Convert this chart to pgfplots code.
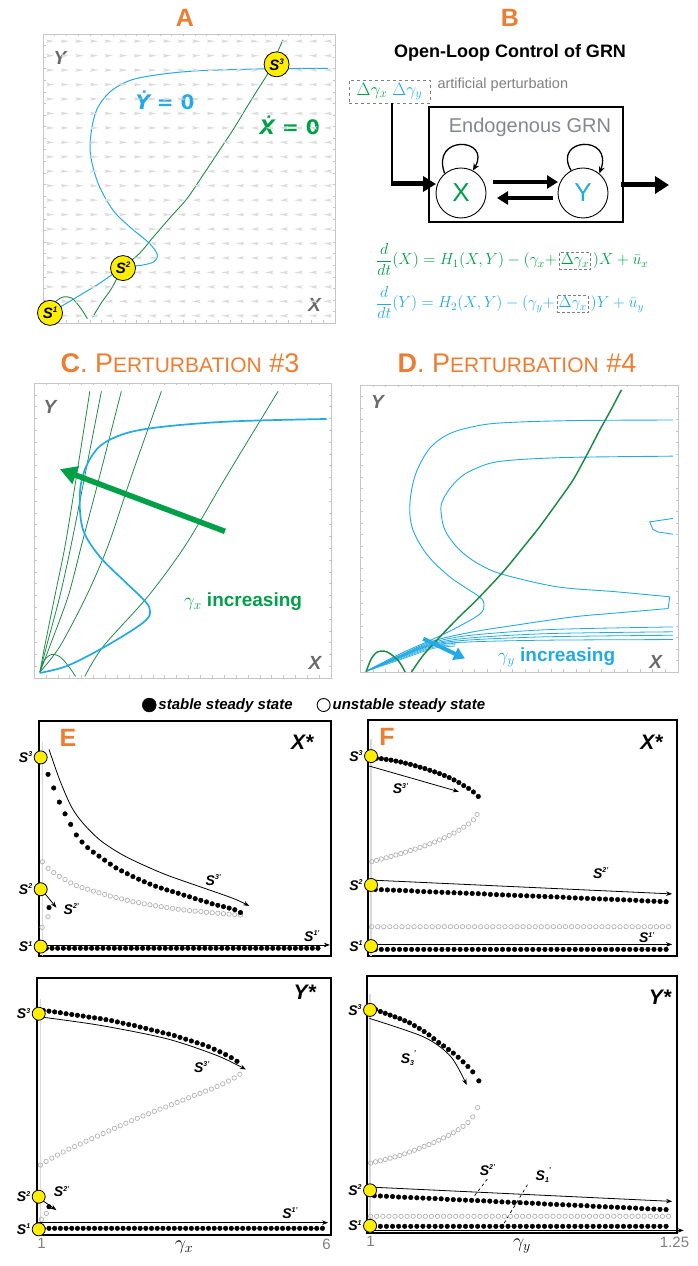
\RequirePackage{fix-cm}
\documentclass[border=0pt]{standalone}
\usepackage{pgfplots}
\pgfplotsset{compat=1.18}
\usepackage{fontspec}
\setmainfont{Liberation Sans}
\newfontfamily\dvs{DejaVu Sans}
\usetikzlibrary{arrows.meta}
\definecolor{orng}{RGB}{237,125,49}
\definecolor{grn}{RGB}{0,160,72}
\definecolor{dgrn}{RGB}{30,140,70}
\definecolor{blu}{RGB}{35,170,230}
\definecolor{yel}{RGB}{255,238,0}
\definecolor{lbl}{RGB}{105,105,105}
\definecolor{endo}{RGB}{130,135,145}
\newcommand{\FSZ}[1]{\fontsize{#1}{#1}\selectfont}
\newcommand{\Sv}[3]{{\FSZ{#1}\bfseries\itshape S\raisebox{0.4em}{\FSZ{#2}#3}}}
\newcommand{\Ssub}[3]{{\FSZ{#1}\bfseries\itshape S\raisebox{-0.2em}{\FSZ{#2}#3}\raisebox{0.55em}{\FSZ{#2}'}}}
\pgfdeclareplotmark{rar}{%
  \pgfpathmoveto{\pgfqpoint{-4.2pt}{1.7pt}}\pgfpathlineto{\pgfqpoint{4.2pt}{0pt}}\pgfpathlineto{\pgfqpoint{-4.2pt}{-1.7pt}}\pgfpathlineto{\pgfqpoint{-2.6pt}{0pt}}\pgfpathclose\pgfusepathqfill}
\pgfdeclareplotmark{lar}{%
  \pgfpathmoveto{\pgfqpoint{4.2pt}{1.7pt}}\pgfpathlineto{\pgfqpoint{-4.2pt}{0pt}}\pgfpathlineto{\pgfqpoint{4.2pt}{-1.7pt}}\pgfpathlineto{\pgfqpoint{2.6pt}{0pt}}\pgfpathclose\pgfusepathqfill}
\pgfplotsset{
  phase/.style={scale only axis, clip=false, xmin=0,xmax=1,ymin=0,ymax=1,
    axis line style={gray!45, line width=0.6pt},
    xtick={0,0.04,...,1.01}, ytick={0,0.04,...,1.01},
    xticklabels={}, yticklabels={},
    tick style={gray!45, line width=0.4pt}, major tick length=2.5pt, tick align=inside},
  bif/.style={scale only axis, clip=false, ymin=0, ymax=1,
    axis line style={black, line width=1.1pt}, xtick=\empty, ytick=\empty},
  st/.style={only marks, mark=*, mark size=2.3pt, black, forget plot},
  us/.style={only marks, mark=o, mark size=2.2pt, gray!60, mark options={line width=0.7pt}, forget plot},
  yc/.style={only marks, mark=*, mark size=#1, mark options={fill=yel, draw=black, line width=0.8pt}, forget plot},
  yc/.default=6.5pt,
  ann/.style={black, line width=0.8pt, -{Stealth[length=6pt,width=4.5pt]}, forget plot},
}
\begin{document}
\begin{tikzpicture}[x=1pt,y=1pt]
\path[use as bounding box] (0,0) rectangle (697,1266);
\coordinate (cA) at (43,943);
\coordinate (cC) at (34,588);
\coordinate (cD) at (360,594);
\coordinate (cE1) at (39,310);
\coordinate (cE2) at (37,31);
\coordinate (cF1) at (368,310);
\coordinate (cF2) at (367,33);
% ---------------- Panel A ----------------
\node[text=orng, font=\FSZ{25}\bfseries] at (185,1266-18) {A};
\begin{axis}[phase, at={(cA)}, anchor=south west, width=292pt, height=289pt]
\addplot[only marks, mark=rar, gray!28]
 table[row sep=\\, x expr=\thisrow{i}*0.05+0.025, y expr=\thisrow{j}*0.05+0.025]{i j\\
0 0\\1 0\\2 0\\
0 1\\1 1\\2 1\\3 1\\
0 2\\1 2\\2 2\\3 2\\4 2\\
0 3\\1 3\\2 3\\3 3\\4 3\\
0 4\\1 4\\2 4\\3 4\\4 4\\5 4\\
0 5\\1 5\\2 5\\3 5\\4 5\\5 5\\6 5\\
0 6\\1 6\\2 6\\3 6\\4 6\\5 6\\6 6\\7 6\\
0 7\\1 7\\2 7\\3 7\\4 7\\5 7\\6 7\\7 7\\8 7\\
0 8\\1 8\\2 8\\3 8\\4 8\\5 8\\6 8\\7 8\\8 8\\9 8\\
0 9\\1 9\\2 9\\3 9\\4 9\\5 9\\6 9\\7 9\\8 9\\9 9\\
0 10\\1 10\\2 10\\3 10\\4 10\\5 10\\6 10\\7 10\\8 10\\9 10\\10 10\\
0 11\\1 11\\2 11\\3 11\\4 11\\5 11\\6 11\\7 11\\8 11\\9 11\\10 11\\11 11\\
0 12\\1 12\\2 12\\3 12\\4 12\\5 12\\6 12\\7 12\\8 12\\9 12\\10 12\\11 12\\
0 13\\1 13\\2 13\\3 13\\4 13\\5 13\\6 13\\7 13\\8 13\\9 13\\10 13\\11 13\\12 13\\
0 14\\1 14\\2 14\\3 14\\4 14\\5 14\\6 14\\7 14\\8 14\\9 14\\10 14\\11 14\\12 14\\13 14\\
0 15\\1 15\\2 15\\3 15\\4 15\\5 15\\6 15\\7 15\\8 15\\9 15\\10 15\\11 15\\12 15\\13 15\\
0 16\\1 16\\2 16\\3 16\\4 16\\5 16\\6 16\\7 16\\8 16\\9 16\\10 16\\11 16\\12 16\\13 16\\14 16\\
0 17\\1 17\\2 17\\3 17\\4 17\\5 17\\6 17\\7 17\\8 17\\9 17\\10 17\\11 17\\12 17\\13 17\\14 17\\15 17\\
0 18\\1 18\\2 18\\3 18\\4 18\\5 18\\6 18\\7 18\\8 18\\9 18\\10 18\\11 18\\12 18\\13 18\\14 18\\15 18\\
0 19\\1 19\\2 19\\3 19\\4 19\\5 19\\6 19\\7 19\\8 19\\9 19\\10 19\\11 19\\12 19\\13 19\\14 19\\15 19\\
};
\addplot[only marks, mark=lar, gray!28]
 table[row sep=\\, x expr=\thisrow{i}*0.05+0.025, y expr=\thisrow{j}*0.05+0.025]{i j\\
3 0\\4 0\\5 0\\6 0\\7 0\\8 0\\9 0\\10 0\\11 0\\12 0\\13 0\\14 0\\15 0\\16 0\\17 0\\18 0\\19 0\\
4 1\\5 1\\6 1\\7 1\\8 1\\9 1\\10 1\\11 1\\12 1\\13 1\\14 1\\15 1\\16 1\\17 1\\18 1\\19 1\\
5 2\\6 2\\7 2\\8 2\\9 2\\10 2\\11 2\\12 2\\13 2\\14 2\\15 2\\16 2\\17 2\\18 2\\19 2\\
5 3\\6 3\\7 3\\8 3\\9 3\\10 3\\11 3\\12 3\\13 3\\14 3\\15 3\\16 3\\17 3\\18 3\\19 3\\
6 4\\7 4\\8 4\\9 4\\10 4\\11 4\\12 4\\13 4\\14 4\\15 4\\16 4\\17 4\\18 4\\19 4\\
7 5\\8 5\\9 5\\10 5\\11 5\\12 5\\13 5\\14 5\\15 5\\16 5\\17 5\\18 5\\19 5\\
8 6\\9 6\\10 6\\11 6\\12 6\\13 6\\14 6\\15 6\\16 6\\17 6\\18 6\\19 6\\
9 7\\10 7\\11 7\\12 7\\13 7\\14 7\\15 7\\16 7\\17 7\\18 7\\19 7\\
10 8\\11 8\\12 8\\13 8\\14 8\\15 8\\16 8\\17 8\\18 8\\19 8\\
10 9\\11 9\\12 9\\13 9\\14 9\\15 9\\16 9\\17 9\\18 9\\19 9\\
11 10\\12 10\\13 10\\14 10\\15 10\\16 10\\17 10\\18 10\\19 10\\
12 11\\13 11\\14 11\\15 11\\16 11\\17 11\\18 11\\19 11\\
12 12\\13 12\\14 12\\15 12\\16 12\\17 12\\18 12\\19 12\\
13 13\\14 13\\15 13\\16 13\\17 13\\18 13\\19 13\\
14 14\\15 14\\16 14\\17 14\\18 14\\19 14\\
14 15\\15 15\\16 15\\17 15\\18 15\\19 15\\
15 16\\16 16\\17 16\\18 16\\19 16\\
16 17\\17 17\\18 17\\19 17\\
16 18\\17 18\\18 18\\19 18\\
16 19\\17 19\\18 19\\19 19\\
};
\addplot[blu, line width=1pt, smooth, tension=0.55] coordinates {(0.024,0.035)(0.10,0.08)(0.19,0.135)(0.274,0.19)(0.34,0.2)(0.38,0.212)(0.392,0.235)(0.365,0.275)(0.30,0.33)(0.24,0.39)(0.19,0.48)(0.163,0.58)(0.165,0.66)(0.185,0.74)(0.23,0.80)(0.30,0.84)(0.40,0.86)(0.52,0.872)(0.66,0.877)(0.80,0.88)(0.976,0.881)};
\addplot[dgrn, line width=0.9pt, smooth, tension=0.55] coordinates {(0.17,0.02)(0.2,0.07)(0.235,0.12)(0.274,0.19)(0.33,0.24)(0.38,0.3)(0.44,0.37)(0.493,0.43)(0.55,0.515)(0.606,0.6)(0.655,0.675)(0.70,0.75)(0.74,0.815)(0.777,0.875)(0.80,0.93)(0.822,0.98)};
\addplot[dgrn, line width=0.9pt, smooth] coordinates {(0.03,0.04)(0.045,0.075)(0.07,0.09)(0.1,0.085)(0.13,0.05)(0.152,0.015)};
\addplot[yc=12.5pt, point meta=explicit symbolic, nodes near coords={\Sv{15}{8}{\pgfplotspointmeta}}, every node near coord/.append style={anchor=center, inner sep=0pt, text=black}] coordinates {(0.024,0.035)[1] (0.274,0.19)[2] (0.80,0.895)[3]};
\node[text=blu] at (axis cs:0.418,0.772) {\dvs\FSZ{20}\bfseries{\itshape Ẏ} = 0};
\node[text=grn] at (axis cs:0.845,0.685) {\dvs\FSZ{20}\bfseries{\itshape Ẋ} = 0};
\node[text=lbl] at (axis cs:0.058,0.917) {\FSZ{19}\bfseries\itshape Y};
\node[text=lbl] at (axis cs:0.93,0.062) {\FSZ{19}\bfseries\itshape X};
\end{axis}
% ---------------- Panel B ----------------
\node[text=orng, font=\FSZ{25}\bfseries] at (510,1266-18) {B};
\node[font=\FSZ{18}\bfseries] at (510,1266-53) {Open-Loop Control of GRN};
\node[draw=gray, dashed, inner sep=1pt, minimum width=81pt, minimum height=23pt, font=\FSZ{18}] at (389.5,1266-91.5) {$\color{grn}\Delta\gamma_x\;\color{blu}\Delta\gamma_y$};
\node[anchor=west, text=gray, font=\FSZ{14.5}] at (434,1266-85) {artificial perturbation};
\draw[line width=2pt] (429,1266-107) rectangle (623,1266-222);
\node[text=endo, font=\FSZ{20}] at (530,1266-127) {Endogenous GRN};
\node[circle, draw, line width=0.9pt, minimum size=50pt, inner sep=0pt, text=grn, font=\FSZ{26}] (X) at (461,1266-193) {X};
\node[circle, draw, line width=0.9pt, minimum size=50pt, inner sep=0pt, text=blu, font=\FSZ{26}] (Y) at (583,1266-193) {Y};
\draw[line width=1.3pt, -{Stealth[length=7pt,width=6pt]}] (X.130) .. controls +(110:42) and +(60:38) .. (X.62);
\draw[line width=1.3pt, -{Stealth[length=7pt,width=6pt]}] (Y.118) .. controls +(120:38) and +(70:42) .. (Y.50);
\draw[line width=1.8pt] (392,1266-103) -- (392,1266-185);
\draw[line width=5pt, -{Triangle[length=13pt,width=15pt]}] (391,1266-184) -- (436,1266-184);
\draw[line width=4.5pt, -{Triangle[length=11pt,width=13pt]}] (493,1266-182) -- (558,1266-182);
\draw[line width=4.5pt, -{Triangle[length=11pt,width=13pt]}] (553,1266-198) -- (497,1266-198);
\draw[line width=5pt, -{Triangle[length=14pt,width=17pt]}] (621,1266-185) -- (669,1266-185);
\node[anchor=base west, inner sep=0pt, text=grn, font=\FSZ{16}] (ea) at (376,1266-265) {$\displaystyle\frac{d}{dt}(X)=H_1(X,Y)-(\gamma_x+$};
\node[anchor=base west, inner sep=1.5pt, draw=gray, densely dashed, text=grn, font=\FSZ{16}] (eb) at ([xshift=2pt]ea.base east) {$\Delta\gamma_x$};
\node[anchor=base west, inner sep=0pt, text=grn, font=\FSZ{16}] at ([xshift=2pt]eb.base east) {$)X+\bar{u}_x$};
\node[anchor=base west, inner sep=0pt, text=blu, font=\FSZ{16}] (fa) at (376,1266-308) {$\displaystyle\frac{d}{dt}(Y)=H_2(X,Y)-(\gamma_y+$};
\node[anchor=base west, inner sep=1.5pt, draw=gray, densely dashed, text=blu, font=\FSZ{16}] (fb) at ([xshift=2pt]fa.base east) {$\Delta\gamma_x$};
\node[anchor=base west, inner sep=0pt, text=blu, font=\FSZ{16}] at ([xshift=2pt]fb.base east) {$)Y+\bar{u}_y$};
% ---------------- Panel C ----------------
\node[text=orng] at (180,1266-363) {{\FSZ{27}\bfseries C}{\FSZ{27}.\ P}{\FSZ{21}ERTURBATION}{\FSZ{27}\ \#3}};
\begin{axis}[phase, at={(cC)}, anchor=south west, width=297pt, height=295pt]
\addplot[dgrn, line width=0.8pt, smooth] coordinates {(0.02,0.02)(0.036,0.107)(0.07,0.277)(0.105,0.45)(0.143,0.684)(0.188,0.972)};
\addplot[dgrn, line width=0.8pt, smooth] coordinates {(0.02,0.02)(0.042,0.107)(0.087,0.277)(0.125,0.45)(0.171,0.684)(0.227,0.972)};
\addplot[dgrn, line width=0.8pt, smooth] coordinates {(0.02,0.02)(0.053,0.107)(0.115,0.277)(0.16,0.45)(0.221,0.684)(0.294,0.972)};
\addplot[dgrn, line width=0.8pt, smooth] coordinates {(0.02,0.02)(0.087,0.107)(0.176,0.277)(0.25,0.45)(0.328,0.684)(0.429,0.972)};
\addplot[dgrn, line width=0.8pt, smooth] coordinates {(0.171,0.005)(0.233,0.107)(0.384,0.277)(0.51,0.45)(0.648,0.684)(0.822,0.972)};
\addplot[dgrn, line width=0.8pt, smooth] coordinates {(0.02,0.02)(0.035,0.06)(0.06,0.08)(0.09,0.07)(0.12,0.035)(0.14,0.005)};
\addplot[blu, line width=1.7pt, smooth, tension=0.55] coordinates {(0.019,0.017)(0.109,0.04)(0.221,0.096)(0.334,0.164)(0.385,0.205)(0.388,0.24)(0.36,0.275)(0.311,0.322)(0.221,0.412)(0.165,0.503)(0.154,0.616)(0.171,0.706)(0.221,0.785)(0.311,0.83)(0.446,0.853)(0.671,0.87)(0.985,0.878)};
\addplot[grn, line width=5.5pt, -{Triangle[length=17pt,width=18pt]}] coordinates {(0.643,0.497)(0.087,0.708)};
\node[text=grn] at (axis cs:0.704,0.258) {\FSZ{19}\bfseries $\gamma_x$ increasing};
\node[text=lbl] at (axis cs:0.054,0.919) {\FSZ{19}\bfseries\itshape Y};
\node[text=lbl] at (axis cs:0.946,0.051) {\FSZ{19}\bfseries\itshape X};
\end{axis}
% ---------------- Panel D ----------------
\node[text=orng] at (517,1266-363) {{\FSZ{27}\bfseries D}{\FSZ{27}.\ P}{\FSZ{21}ERTURBATION}{\FSZ{27}\ \#4}};
\begin{axis}[phase, at={(cD)}, anchor=south west, width=318pt, height=287pt]
\addplot[blu, line width=0.9pt, smooth, tension=0.55] coordinates {(0.02,0.003)(0.12,0.06)(0.25,0.125)(0.33,0.17)(0.38,0.205)(0.39,0.235)(0.375,0.262)(0.283,0.331)(0.21,0.41)(0.165,0.5)(0.157,0.587)(0.175,0.69)(0.22,0.78)(0.283,0.831)(0.37,0.858)(0.461,0.869)(0.67,0.876)(0.984,0.878)};
\addplot[blu, line width=0.9pt, smooth, tension=0.5] coordinates {(0.984,0.752)(0.67,0.748)(0.5,0.74)(0.408,0.727)(0.33,0.69)(0.283,0.64)(0.255,0.58)(0.265,0.5)(0.304,0.436)(0.36,0.385)(0.44,0.343)(0.618,0.297)(0.8,0.28)(0.974,0.262)};
\addplot[blu, line width=0.9pt] coordinates {(0.974,0.262)(0.969,0.221)};
\addplot[blu, line width=0.9pt, smooth, tension=0.5] coordinates {(0.969,0.221)(0.8,0.205)(0.67,0.192)(0.5,0.165)(0.356,0.14)(0.23,0.108)(0.12,0.055)(0.02,0.003)};
\addplot[blu, line width=0.9pt] coordinates {(0.984,0.535)(0.911,0.523)(0.921,0.497)(0.937,0.488)(0.984,0.48)};
\addplot[blu, line width=0.8pt, smooth] coordinates {(0.02,0.003)(0.12,0.054)(0.23,0.103)(0.35,0.128)(0.6,0.148)(0.984,0.157)};
\addplot[blu, line width=0.8pt, smooth] coordinates {(0.02,0.003)(0.12,0.052)(0.23,0.099)(0.35,0.119)(0.6,0.134)(0.984,0.14)};
\addplot[blu, line width=0.8pt, smooth] coordinates {(0.02,0.003)(0.12,0.05)(0.23,0.096)(0.35,0.112)(0.6,0.123)(0.984,0.128)};
\addplot[blu, line width=0.8pt, smooth] coordinates {(0.02,0.003)(0.12,0.048)(0.23,0.093)(0.35,0.105)(0.6,0.111)(0.984,0.113)};
\addplot[blu, line width=0.6pt, smooth] coordinates {(0.02,0.003)(0.12,0.046)(0.23,0.09)(0.3,0.1)};
\addplot[blu, line width=0.6pt, smooth] coordinates {(0.02,0.003)(0.12,0.043)(0.23,0.086)(0.3,0.095)};
\addplot[blu, line width=0.6pt, smooth] coordinates {(0.02,0.003)(0.12,0.04)(0.23,0.082)(0.3,0.09)};
\addplot[dgrn, line width=1.5pt, smooth] coordinates {(0.162,0.0)(0.2,0.06)(0.251,0.122)(0.31,0.19)(0.366,0.25)(0.45,0.349)(0.51,0.43)(0.565,0.506)(0.62,0.59)(0.67,0.669)(0.715,0.76)(0.754,0.843)(0.79,0.915)(0.822,0.983)};
\addplot[dgrn, line width=1.5pt, smooth] coordinates {(0.019,0.0)(0.035,0.045)(0.055,0.07)(0.085,0.07)(0.12,0.04)(0.142,0.0)};
\addplot[blu, line width=4pt, -{Triangle[length=11pt,width=13pt]}] coordinates {(0.199,0.116)(0.33,0.047)};
\node[text=blu] at (axis cs:0.618,0.052) {\FSZ{19}\bfseries $\gamma_y$ increasing};
\node[text=lbl] at (axis cs:0.055,0.94) {\FSZ{19}\bfseries\itshape Y};
\node[text=lbl] at (axis cs:0.93,0.035) {\FSZ{19}\bfseries\itshape X};
\end{axis}
% ---------------- Panel E top ----------------
\begin{axis}[bif, at={(cE1)}, anchor=south west, width=292pt, height=235pt, xmin=0.92, xmax=6.08,
  legend style={at={(0.342,1.068)}, anchor=west, draw=none, fill=none, legend columns=2,
  font=\FSZ{15}\bfseries\itshape, /tikz/every even column/.append style={column sep=22pt}}]
\addplot[only marks, mark=*, mark size=2.3pt, black, legend image code/.code={\fill[black] (0.25cm,0) circle (7pt);}] coordinates {(1.05,.033)(1.15,.033)(1.25,.033)(1.35,.033)(1.45,.033)(1.55,.033)(1.65,.033)(1.75,.033)(1.85,.033)(1.95,.033)(2.05,.033)(2.15,.033)(2.25,.033)(2.35,.033)(2.45,.033)(2.55,.033)(2.65,.033)(2.75,.033)(2.85,.033)(2.95,.033)(3.05,.033)(3.15,.033)(3.25,.033)(3.35,.033)(3.45,.033)(3.55,.033)(3.65,.033)(3.75,.033)(3.85,.033)(3.95,.033)(4.05,.033)(4.15,.033)(4.25,.033)(4.35,.033)(4.45,.033)(4.55,.033)(4.65,.033)(4.75,.033)(4.85,.033)(4.95,.033)(5.05,.033)(5.15,.033)(5.25,.033)(5.35,.033)(5.45,.033)(5.55,.033)(5.65,.033)(5.75,.033)(5.85,.033)};
\addlegendentry{stable steady state}
\addplot[only marks, mark=o, mark size=2.2pt, gray!60, mark options={line width=0.7pt}, legend image code/.code={\draw[black, line width=0.9pt, fill=white] (0.25cm,0) circle (6.5pt);}] coordinates {(0.98,.401)(1.08,.373)(1.18,.355)(1.28,.339)(1.38,.325)(1.48,.311)(1.58,.3)(1.68,.291)(1.78,.284)(1.88,.276)(1.98,.269)(2.08,.262)(2.18,.255)(2.28,.249)(2.38,.243)(2.48,.237)(2.58,.231)(2.68,.227)(2.78,.222)(2.88,.218)(2.98,.214)(3.08,.21)(3.18,.206)(3.28,.203)(3.38,.199)(3.48,.196)(3.58,.193)(3.68,.191)(3.78,.189)(3.88,.186)(3.98,.184)(4.08,.182)(4.18,.18)(4.28,.178)(4.38,.176)(4.48,.174)};
\addlegendentry{unstable steady state}
\draw[gray!30, line width=1.2pt] (axis cs:0.985,0) -- (axis cs:0.985,0.91);
\addplot[us] coordinates {(1.08,.167)(0.975,.122)};
\addplot[st] coordinates {(1.08,.773)(1.18,.715)(1.28,.655)(1.38,.605)(1.48,.56)(1.58,.515)(1.68,.485)(1.78,.461)(1.88,.442)(1.98,.425)(2.08,.408)(2.18,.391)(2.28,.375)(2.38,.362)(2.48,.35)(2.58,.338)(2.68,.327)(2.78,.316)(2.88,.306)(2.98,.297)(3.08,.289)(3.18,.281)(3.28,.274)(3.38,.267)(3.48,.259)(3.58,.252)(3.68,.244)(3.78,.237)(3.88,.23)(3.98,.222)(4.08,.216)(4.18,.21)(4.28,.204)(4.38,.197)(4.48,.185)};
\addplot[st] coordinates {(1.097,.206)};
\addplot[ann, smooth] coordinates {(1.097,0.879)(1.286,0.749)(1.492,0.635)(1.698,0.565)(1.993,0.494)(2.347,0.437)(2.701,0.394)(3.173,0.345)(3.762,0.295)(4.352,0.245)(4.635,0.213)};
\addplot[ann] coordinates {(0.96,0.047)(6.06,0.047)};
\addplot[ann] coordinates {(0.961,0.284)(1.227,0.206)};
\addplot[yc] coordinates {(0.95,0.04)(0.95,0.284)(0.95,0.845)};
\node[anchor=east, xshift=-5pt] at (axis cs:0.95,0.845) {\Sv{14}{7}{3}};
\node[anchor=east, xshift=-5pt] at (axis cs:0.95,0.284) {\Sv{14}{7}{2}};
\node[anchor=east, xshift=-5pt] at (axis cs:0.95,0.04) {\Sv{14}{7}{1}};
\node at (axis cs:4.0,0.323) {\Sv{14}{7}{3'}};
\node at (axis cs:1.49,0.199) {\Sv{14}{7}{2'}};
\node at (axis cs:5.74,0.085) {\Sv{14}{7}{1'}};
\node[text=orng] at (axis cs:1.43,0.928) {\FSZ{25}\bfseries E};
\node at (axis cs:5.57,0.91) {\FSZ{21}\bfseries\itshape X*};
\end{axis}
% ---------------- Panel E bottom ----------------
\begin{axis}[bif, at={(cE2)}, anchor=south west, width=294pt, height=257pt, xmin=0.92, xmax=6.08,
  xtick={1,6}, xticklabels={1,6}, major tick length=0pt, xticklabel style={text=gray, font=\FSZ{15}},
  xlabel={$\gamma_x$}, xlabel style={at={(axis description cs:0.5,0)}, anchor=north, yshift=-2pt, font=\FSZ{20}}]
\draw[gray!30, line width=1.2pt] (axis cs:0.975,0) -- (axis cs:0.975,0.92);
\addplot[st] coordinates {(1.03,.026)(1.13,.026)(1.23,.026)(1.33,.026)(1.43,.026)(1.53,.026)(1.63,.026)(1.73,.026)(1.83,.026)(1.93,.026)(2.03,.026)(2.13,.026)(2.23,.026)(2.33,.026)(2.43,.026)(2.53,.026)(2.63,.026)(2.73,.026)(2.83,.026)(2.93,.026)(3.03,.026)(3.13,.026)(3.23,.026)(3.33,.026)(3.43,.026)(3.53,.026)(3.63,.026)(3.73,.026)(3.83,.026)(3.93,.026)(4.03,.026)(4.13,.026)(4.23,.026)(4.33,.026)(4.43,.026)(4.53,.026)(4.63,.026)(4.73,.026)(4.83,.026)(4.93,.026)(5.03,.026)(5.13,.026)(5.23,.026)(5.33,.026)(5.43,.026)(5.53,.026)(5.63,.026)(5.73,.026)(5.83,.026)(5.93,.026)};
\addplot[st] coordinates {(1.03,.874)(1.13,.871)(1.23,.868)(1.33,.865)(1.43,.861)(1.53,.858)(1.63,.855)(1.73,.852)(1.83,.848)(1.93,.845)(2.03,.842)(2.13,.838)(2.23,.834)(2.33,.829)(2.43,.824)(2.53,.819)(2.63,.815)(2.73,.809)(2.83,.804)(2.93,.798)(3.03,.793)(3.13,.787)(3.23,.782)(3.33,.776)(3.43,.769)(3.53,.762)(3.63,.755)(3.73,.748)(3.83,.741)(3.93,.733)(4.03,.723)(4.13,.713)(4.23,.702)(4.33,.69)(4.43,.676)};
\addplot[us] coordinates {(0.98,.272)(1.08,.286)(1.18,.299)(1.28,.311)(1.38,.323)(1.48,.334)(1.58,.344)(1.68,.354)(1.78,.365)(1.88,.375)(1.98,.385)(2.08,.395)(2.18,.405)(2.28,.415)(2.38,.425)(2.48,.435)(2.58,.445)(2.68,.454)(2.78,.463)(2.88,.472)(2.98,.481)(3.08,.49)(3.18,.498)(3.28,.507)(3.38,.516)(3.48,.525)(3.58,.534)(3.68,.543)(3.78,.551)(3.88,.56)(3.98,.568)(4.08,.578)(4.18,.588)(4.28,.599)(4.38,.611)(4.48,.625)};
\addplot[us] coordinates {(1.084,.084)(0.996,.061)};
\addplot[st] coordinates {(1.13,.11)};
\addplot[ann, smooth] coordinates {(0.996,0.848)(2.021,0.816)(3.192,0.764)(4.071,0.699)(4.587,0.644)};
\addplot[ann] coordinates {(0.92,0.048)(6.03,0.048)};
\addplot[ann] coordinates {(0.967,0.142)(1.26,0.097)};
\addplot[yc] coordinates {(0.95,0.022)(0.95,0.149)(0.95,0.861)};
\node[anchor=east, xshift=-5pt] at (axis cs:0.95,0.861) {\Sv{14}{7}{3}};
\node[anchor=east, xshift=-5pt] at (axis cs:0.95,0.149) {\Sv{14}{7}{2}};
\node[anchor=east, xshift=-5pt] at (axis cs:0.95,0.022) {\Sv{14}{7}{1}};
\node at (axis cs:3.81,0.654) {\Sv{14}{7}{3'}};
\node at (axis cs:1.35,0.168) {\Sv{14}{7}{2'}};
\node at (axis cs:5.36,0.084) {\Sv{14}{7}{1'}};
\node at (axis cs:5.62,0.946) {\FSZ{21}\bfseries\itshape Y*};
\end{axis}
% ---------------- Panel F top ----------------
\begin{axis}[bif, at={(cF1)}, anchor=south west, width=309pt, height=236pt, xmin=0.997, xmax=1.252]
\draw[gray!30, line width=1.2pt] (axis cs:0.9995,0) -- (axis cs:0.9995,0.92);
\addplot[st] coordinates {(1.004,.838)(1.008,.836)(1.012,.833)(1.016,.830)(1.020,.826)(1.024,.822)(1.028,.817)(1.032,.812)(1.036,.806)(1.040,.800)(1.044,.794)(1.048,.787)(1.052,.780)(1.056,.773)(1.060,.765)(1.064,.756)(1.068,.746)(1.072,.735)(1.076,.722)(1.080,.710)(1.084,.695)(1.088,.676)};
\addplot[us] coordinates {(1.000,.400)(1.004,.405)(1.008,.411)(1.012,.416)(1.016,.422)(1.020,.428)(1.024,.434)(1.028,.440)(1.032,.447)(1.036,.453)(1.040,.460)(1.044,.467)(1.048,.475)(1.052,.483)(1.056,.492)(1.060,.501)(1.064,.511)(1.068,.521)(1.072,.533)(1.076,.546)(1.080,.560)(1.084,.577)(1.087,.600)};
\addplot[st] coordinates {(1.003,.282)(1.008,.281)(1.013,.280)(1.018,.279)(1.023,.278)(1.028,.277)(1.033,.276)(1.038,.274)(1.043,.273)(1.048,.272)(1.053,.271)(1.058,.270)(1.063,.269)(1.068,.268)(1.073,.267)(1.078,.266)(1.083,.265)(1.088,.264)(1.093,.263)(1.098,.261)(1.103,.260)(1.108,.259)(1.113,.258)(1.118,.257)(1.123,.256)(1.128,.255)(1.133,.254)(1.138,.253)(1.143,.252)(1.148,.251)(1.153,.250)(1.158,.249)(1.163,.247)(1.168,.246)(1.173,.245)(1.178,.244)(1.183,.243)(1.188,.242)(1.193,.241)(1.198,.240)(1.203,.239)(1.208,.238)(1.213,.237)(1.218,.236)(1.223,.234)(1.228,.233)(1.233,.232)(1.238,.231)(1.243,.230)};
\addplot[us] coordinates {(1.000,.124)(1.005,.124)(1.010,.124)(1.015,.124)(1.020,.124)(1.025,.124)(1.030,.124)(1.035,.124)(1.040,.124)(1.045,.124)(1.050,.124)(1.055,.124)(1.060,.124)(1.065,.124)(1.070,.124)(1.075,.124)(1.080,.124)(1.085,.124)(1.090,.124)(1.095,.124)(1.100,.124)(1.105,.124)(1.110,.124)(1.115,.124)(1.120,.124)(1.125,.124)(1.130,.124)(1.135,.124)(1.140,.124)(1.145,.124)(1.150,.124)(1.155,.124)(1.160,.124)(1.165,.124)(1.170,.124)(1.175,.124)(1.180,.124)(1.185,.124)(1.190,.124)(1.195,.124)(1.200,.124)(1.205,.124)(1.210,.124)(1.215,.124)(1.220,.124)(1.225,.124)(1.230,.124)(1.235,.124)(1.240,.124)(1.245,.124)};
\addplot[st] coordinates {(1.003,.028)(1.008,.028)(1.013,.028)(1.018,.028)(1.023,.028)(1.028,.028)(1.033,.028)(1.038,.028)(1.043,.028)(1.048,.028)(1.053,.028)(1.058,.028)(1.063,.028)(1.068,.028)(1.073,.028)(1.078,.028)(1.083,.028)(1.088,.028)(1.093,.028)(1.098,.028)(1.103,.028)(1.108,.028)(1.113,.028)(1.118,.028)(1.123,.028)(1.128,.028)(1.133,.028)(1.138,.028)(1.143,.028)(1.148,.028)(1.153,.028)(1.158,.028)(1.163,.028)(1.168,.028)(1.173,.028)(1.178,.028)(1.183,.028)(1.188,.028)(1.193,.028)(1.198,.028)(1.203,.028)(1.208,.028)(1.213,.028)(1.218,.028)(1.223,.028)(1.228,.028)(1.233,.028)(1.238,.028)(1.243,.028)};
\addplot[ann] coordinates {(0.998,0.805)(1.072,0.696)};
\addplot[ann] coordinates {(0.998,0.322)(1.248,0.263)};
\addplot[ann] coordinates {(0.998,0.049)(1.248,0.049)};
\addplot[yc] coordinates {(0.9995,0.042)(0.9995,0.301)(0.9995,0.847)};
\node[anchor=east, xshift=-5pt] at (axis cs:0.9995,0.847) {\Sv{14}{7}{3}};
\node[anchor=east, xshift=-5pt] at (axis cs:0.9995,0.301) {\Sv{14}{7}{2}};
\node[anchor=east, xshift=-5pt] at (axis cs:0.9995,0.042) {\Sv{14}{7}{1}};
\node at (axis cs:1.0237,0.71) {\Sv{14}{7}{3'}};
\node at (axis cs:1.189,0.35) {\Sv{14}{7}{2'}};
\node at (axis cs:1.227,0.078) {\Sv{14}{7}{1'}};
\node[text=orng] at (axis cs:1.0127,0.928) {\FSZ{25}\bfseries F};
\node at (axis cs:1.231,0.907) {\FSZ{21}\bfseries\itshape X*};
\end{axis}
% ---------------- Panel F bottom ----------------
\begin{axis}[bif, at={(cF2)}, anchor=south west, width=310pt, height=257pt, xmin=0.997, xmax=1.252,
  xtick={1,1.25}, xticklabels={1,1.25}, major tick length=0pt, xticklabel style={text=gray, font=\FSZ{15}},
  xlabel={$\gamma_y$}, xlabel style={at={(axis description cs:0.5,0)}, anchor=north, yshift=-2pt, font=\FSZ{20}}]
\draw[gray!30, line width=1.2pt] (axis cs:0.9995,0) -- (axis cs:0.9995,0.93);
\addplot[st] coordinates {(1.004,.87)(1.008,.862)(1.012,.855)(1.016,.848)(1.020,.841)(1.024,.834)(1.028,.826)(1.032,.818)(1.036,.807)(1.040,.796)(1.044,.784)(1.048,.771)(1.052,.756)(1.056,.741)(1.060,.728)(1.064,.714)(1.068,.700)(1.072,.684)(1.076,.666)(1.080,.648)(1.084,.627)(1.089,.592)};
\addplot[us] coordinates {(1.000,.272)(1.004,.277)(1.008,.281)(1.012,.286)(1.016,.291)(1.020,.296)(1.024,.302)(1.028,.308)(1.032,.315)(1.036,.322)(1.040,.329)(1.044,.337)(1.048,.344)(1.052,.352)(1.056,.361)(1.060,.37)(1.064,.38)(1.068,.39)(1.072,.402)(1.076,.415)(1.080,.43)(1.084,.452)(1.088,.488)};
\addplot[st] coordinates {(1.003,.145)(1.008,.144)(1.013,.143)(1.018,.142)(1.023,.140)(1.028,.139)(1.033,.138)(1.038,.137)(1.043,.136)(1.048,.135)(1.053,.134)(1.058,.133)(1.063,.131)(1.068,.130)(1.073,.129)(1.078,.128)(1.083,.127)(1.088,.126)(1.093,.125)(1.098,.124)(1.103,.122)(1.108,.121)(1.113,.120)(1.118,.119)(1.123,.118)(1.128,.117)(1.133,.116)(1.138,.115)(1.143,.113)(1.148,.112)(1.153,.111)(1.158,.110)(1.163,.109)(1.168,.108)(1.173,.107)(1.178,.106)(1.183,.104)(1.188,.103)(1.193,.102)(1.198,.101)(1.203,.100)(1.208,.099)(1.213,.098)(1.218,.097)(1.223,.095)(1.228,.094)(1.233,.093)(1.238,.092)(1.243,.091)};
\addplot[us] coordinates {(1.000,.065)(1.005,.065)(1.010,.065)(1.015,.065)(1.020,.065)(1.025,.065)(1.030,.065)(1.035,.065)(1.040,.065)(1.045,.065)(1.050,.065)(1.055,.065)(1.060,.065)(1.065,.065)(1.070,.065)(1.075,.065)(1.080,.065)(1.085,.065)(1.090,.065)(1.095,.065)(1.100,.065)(1.105,.065)(1.110,.065)(1.115,.065)(1.120,.065)(1.125,.065)(1.130,.065)(1.135,.065)(1.140,.065)(1.145,.065)(1.150,.065)(1.155,.065)(1.160,.065)(1.165,.065)(1.170,.065)(1.175,.065)(1.180,.065)(1.185,.065)(1.190,.065)(1.195,.065)(1.200,.065)(1.205,.065)(1.210,.065)(1.215,.065)(1.220,.065)(1.225,.065)(1.230,.065)(1.235,.065)(1.240,.065)(1.245,.065)};
\addplot[st] coordinates {(1.003,.026)(1.008,.026)(1.013,.026)(1.018,.026)(1.023,.026)(1.028,.026)(1.033,.026)(1.038,.026)(1.043,.026)(1.048,.026)(1.053,.026)(1.058,.026)(1.063,.026)(1.068,.026)(1.073,.026)(1.078,.026)(1.083,.026)(1.088,.026)(1.093,.026)(1.098,.026)(1.103,.026)(1.108,.026)(1.113,.026)(1.118,.026)(1.123,.026)(1.128,.026)(1.133,.026)(1.138,.026)(1.143,.026)(1.148,.026)(1.153,.026)(1.158,.026)(1.163,.026)(1.168,.026)(1.173,.026)(1.178,.026)(1.183,.026)(1.188,.026)(1.193,.026)(1.198,.026)(1.203,.026)(1.208,.026)(1.213,.026)(1.218,.026)(1.223,.026)(1.228,.026)(1.233,.026)(1.238,.026)(1.243,.026)};
\addplot[ann, smooth] coordinates {(0.999,0.835)(1.044,0.762)(1.066,0.686)(1.079,0.576)};
\addplot[ann] coordinates {(0.998,0.179)(1.248,0.123)};
\addplot[ann] coordinates {(0.998,0.01)(1.2575,0.01)};
\addplot[black, dashed, line width=0.7pt, forget plot] coordinates {(1.096,0.21)(1.085,0.142)};
\addplot[black, dashed, line width=0.7pt, forget plot] coordinates {(1.129,0.188)(1.109,0.032)};
\addplot[yc] coordinates {(0.9995,0.028)(0.9995,0.166)(0.9995,0.868)};
\node[anchor=east, xshift=-5pt] at (axis cs:0.9995,0.868) {\Sv{14}{7}{3}};
\node[anchor=east, xshift=-5pt] at (axis cs:0.9995,0.166) {\Sv{14}{7}{2}};
\node[anchor=east, xshift=-5pt] at (axis cs:0.9995,0.028) {\Sv{14}{7}{1}};
\node at (axis cs:1.031,0.68) {\Ssub{14}{7}{3}};
\node at (axis cs:1.096,0.245) {\Sv{14}{7}{2'}};
\node at (axis cs:1.142,0.225) {\Ssub{14}{7}{1}};
\node at (axis cs:1.238,0.918) {\FSZ{21}\bfseries\itshape Y*};
\end{axis}
\end{tikzpicture}
\end{document}
